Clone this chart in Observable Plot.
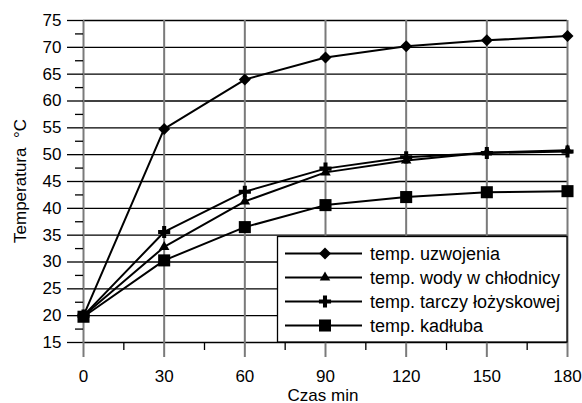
<!DOCTYPE html>
<html>
<head>
<meta charset="utf-8">
<script src="https://cdn.jsdelivr.net/npm/d3@7"></script>
<script src="https://cdn.jsdelivr.net/npm/@observablehq/plot@0.6"></script>
<style>
  html, body { margin: 0; padding: 0; background: #fff; }
  #chart svg { display: block; }
</style>
</head>
<body>
<div id="chart"></div>
<script>
// ---- data ----
const times = [0, 30, 60, 90, 120, 150, 180];
const uzwojenia = [20, 54.8, 64.0, 68.1, 70.2, 71.3, 72.1];
const wody = [20, 32.8, 41.3, 46.7, 48.9, 50.4, 50.8];
const tarczy = [20, 35.6, 43.1, 47.4, 49.5, 50.3, 50.6];
const kadluba = [19.8, 30.3, 36.5, 40.6, 42.1, 43.0, 43.2];
const seriesNames = ["temp. uzwojenia", "temp. wody w chłodnicy", "temp. tarczy łożyskowej", "temp. kadłuba"];
const seriesSymbols = ["diamond2", "triangle", "cross", "square"];
const seriesR = [5.4, 3.9, 5.1, 6.8];
const xTicks = [0, 30, 60, 90, 120, 150, 180];
const xMinor = [15, 45, 75, 105, 135, 165];
const yTicks = [15, 20, 25, 30, 35, 40, 45, 50, 55, 60, 65, 70, 75];
const yMinor = [17.5, 22.5, 27.5, 32.5, 37.5, 42.5, 47.5, 52.5, 57.5, 62.5, 67.5, 72.5];
const xLabel = "Czas min";
const yLabel = "Temperatura  °C";

const allValues = [uzwojenia, wody, tarczy, kadluba];
const rows = [];
allValues.forEach((vals, si) => vals.forEach((v, i) => rows.push({series: seriesNames[si], si, t: times[i], v})));

const W = 582, H = 403;
const font = "'Liberation Sans', Arial, sans-serif";

const chart = Plot.plot({
  width: W,
  height: H,
  marginLeft: 83,
  marginRight: 15,
  marginTop: 20,
  marginBottom: 61,
  style: {fontFamily: font, fontSize: "17px", background: "#fff", color: "#000"},
  x: {domain: [0, 180]},
  y: {domain: [15, 75]},
  marks: [
    Plot.ruleY(yTicks, {stroke: "#000", strokeWidth: 1.3}),
    Plot.ruleX(xTicks, {stroke: "#7a7a7a", strokeWidth: 2}),
    Plot.axisY({ticks: yTicks, tickSize: 16, tickPadding: 6, stroke: "#000", strokeWidth: 1.3, label: null, fontSize: 17}),
    Plot.axisY({ticks: yMinor, tickSize: 8, tickFormat: () => "", stroke: "#000", strokeWidth: 1.3, label: null}),
    Plot.axisX({ticks: xTicks, tickSize: 15, tickPadding: 12, stroke: "#7a7a7a", strokeWidth: 2, label: null, fontSize: 17}),
    Plot.axisX({ticks: xMinor, tickSize: 8, tickFormat: () => "", stroke: "#000", strokeWidth: 1.3, label: null}),
    Plot.line(rows, {x: "t", y: "v", z: "series", stroke: "#000", strokeWidth: 2}),
    ...seriesNames.map((name, si) =>
      Plot.dot(rows.filter(d => d.si === si), {x: "t", y: "v", symbol: () => seriesSymbols[si], r: seriesR[si], fill: "#000", stroke: "none"})
    )
  ]
});

const svg = d3.select(chart);

// axis titles
svg.append("text")
  .attr("x", 323).attr("y", 400.5)
  .attr("text-anchor", "middle")
  .style("font-family", font).style("font-size", "17px")
  .text(xLabel);
svg.append("text")
  .attr("transform", "translate(26,181) rotate(-90)")
  .attr("text-anchor", "middle")
  .style("font-family", font).style("font-size", "17px")
  .text(yLabel);

// legend
const lg = svg.append("g");
lg.append("rect").attr("x", 277.5).attr("y", 236.5).attr("width", 289.5).attr("height", 105.5)
  .attr("fill", "#fff").attr("stroke", "#000").attr("stroke-width", 1.3);
const symMap = {diamond2: d3.symbolDiamond2, triangle: d3.symbolTriangle, cross: d3.symbolCross, square: d3.symbolSquare};
seriesNames.forEach((name, si) => {
  const cy = 253.5 + si * 24;
  lg.append("line").attr("x1", 285).attr("x2", 362).attr("y1", cy).attr("y2", cy).attr("stroke", "#000").attr("stroke-width", 2);
  lg.append("path").attr("transform", `translate(325,${cy})`)
    .attr("d", d3.symbol(symMap[seriesSymbols[si]], Math.PI * seriesR[si] ** 2)())
    .attr("fill", "#000");
  lg.append("text").attr("x", 370).attr("y", cy).attr("dy", "0.35em")
    .attr("text-anchor", "start")
    .style("font-family", font).style("font-size", "18px")
    .text(name);
});

document.getElementById("chart").appendChild(chart);
</script>
</body>
</html>
